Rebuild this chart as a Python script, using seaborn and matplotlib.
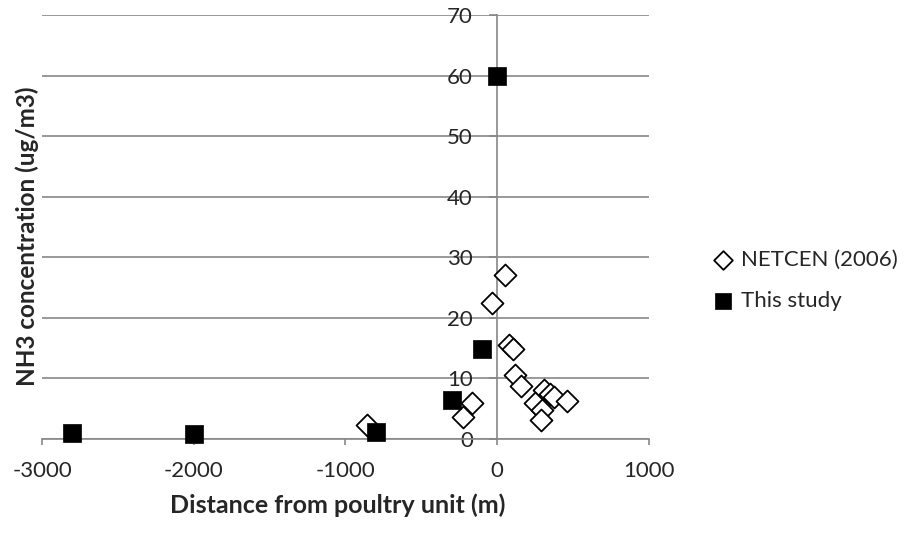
import numpy as np
import pandas as pd
import matplotlib
matplotlib.use("Agg")
import matplotlib.pyplot as plt
import seaborn as sns

# ---- data ----
netcen_distance = [48, -35, 75, 107, 114, 156, -166, -228, -857, 311, 349, 371, 250, 459, 294, 287]
netcen_nh3 = [27.1, 22.4, 15.5, 14.8, 10.6, 8.7, 6.0, 3.7, 2.3, 8.1, 7.5, 7.0, 6.0, 6.2, 4.8, 3.1]
study_distance = [-2800, -2000, -800, -300, -100, 0]
study_nh3 = [1.0, 0.8, 1.2, 6.4, 14.9, 60.0]
x_ticks = [-3000, -2000, -1000, 0, 1000]
y_ticks = [0, 10, 20, 30, 40, 50, 60, 70]
series_names = ["NETCEN (2006)", "This study"]
x_label = "Distance from poultry unit (m)"
y_label = "NH3 concentration (ug/m3)"

netcen = pd.DataFrame({"distance": netcen_distance, "nh3": netcen_nh3})
study = pd.DataFrame({"distance": study_distance, "nh3": study_nh3})

sns.set_style("white")
plt.rcParams["font.family"] = ["Lato", "DejaVu Sans"]
plt.rcParams["axes.unicode_minus"] = False

GRAY = "#878787"

fig = plt.figure(figsize=(9.07, 5.35), dpi=100)
ax = fig.add_axes([42 / 907, 1 - 439 / 535, (649 - 42) / 907, (439 - 15) / 535])

sns.scatterplot(data=netcen, x="distance", y="nh3", ax=ax, marker="D", s=125,
                facecolor="white", edgecolor="black", linewidth=1.3,
                label=series_names[0], clip_on=False, zorder=3)
sns.scatterplot(data=study, x="distance", y="nh3", ax=ax, marker="s", s=185,
                color="black", edgecolor="black", linewidth=0.5,
                label=series_names[1], clip_on=False, zorder=4)

ax.set_xlim(-3000, 1000)
ax.set_ylim(0, 70)
ax.set_xticks(x_ticks)
ax.set_yticks(y_ticks)

ax.yaxis.grid(True, color=GRAY, linewidth=1.2)
ax.xaxis.grid(False)
ax.set_axisbelow(True)

for side in ["top", "right"]:
    ax.spines[side].set_visible(False)
ax.spines["left"].set_position(("data", 0))
ax.spines["left"].set_color(GRAY)
ax.spines["left"].set_linewidth(1.2)
ax.spines["bottom"].set_color(GRAY)
ax.spines["bottom"].set_linewidth(1.2)

ax.tick_params(axis="x", direction="out", length=4.5, width=1.2, color=GRAY,
               labelsize=16, pad=11, bottom=True)
ax.tick_params(axis="y", direction="out", length=5.5, width=1.2, color=GRAY,
               labelsize=16, pad=12, left=True)

ax.set_xlabel(x_label, fontsize=18, fontweight="bold")
ax.set_ylabel("")
fig.text(27 / 907, 1 - 236 / 535, y_label, rotation=90, fontsize=17.5,
         fontweight="bold", ha="center", va="center")
ax.xaxis.set_label_coords((338 - 42) / (649 - 42), -(493 - 439) / (439 - 15))

leg = ax.legend(loc="center left", bbox_to_anchor=(705 / 907, 1 - 280 / 535),
                bbox_transform=fig.transFigure, frameon=False, fontsize=16,
                markerscale=0.85, handlelength=0.8, handletextpad=0.4,
                labelspacing=0.95, borderaxespad=0)

fig.savefig("out.png", dpi=100)
